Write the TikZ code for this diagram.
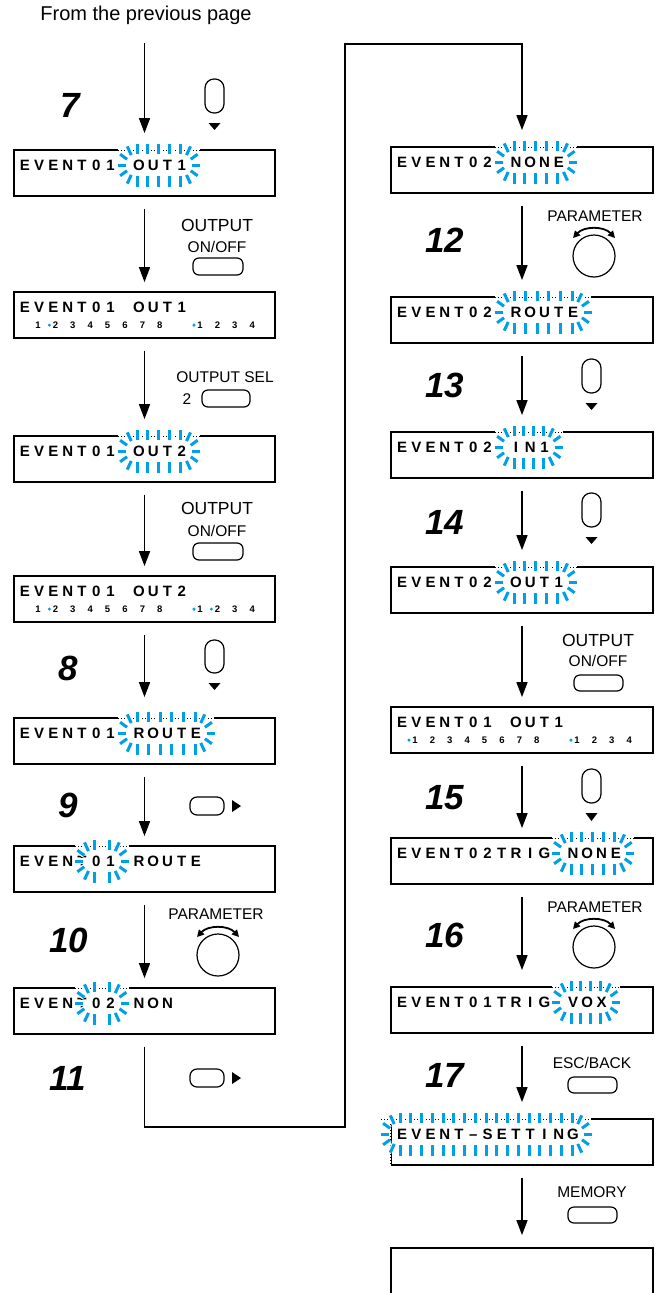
\documentclass[tikz,border=0pt]{standalone}
\usepackage{fontspec}
\setmainfont{Liberation Sans}
\usetikzlibrary{arrows.meta}
\definecolor{blinkblue}{RGB}{0,160,230}
\tikzset{
  lcdbox/.style={draw, line width=1.8pt, minimum height=46pt, inner sep=0pt},
  lbox/.style={lcdbox, minimum width=261pt},
  rbox/.style={lcdbox, minimum width=262pt},
  lcdch/.style={anchor=base, inner sep=0pt, font=\fontsize{15}{15}\selectfont\bfseries},
  nums/.style={anchor=base, inner sep=0pt, font=\fontsize{9.5}{9.5}\selectfont\bfseries},
  arr/.style={line width=1.6pt, -{Triangle[length=15pt,width=11pt]}, shorten <=12pt, shorten >=9pt},
  arrb/.style={arr, shorten >=16pt},
  ray/.style={draw=blinkblue, line width=3pt, preaction={draw=white, line width=5.5pt}},
  dotborder/.style={draw=black, line width=1pt, dash pattern=on 1pt off 2pt},
  stepnum/.style={inner sep=0pt, font=\fontsize{35}{35}\selectfont\bfseries\itshape, text height=25pt, text depth=0pt},
  lbl/.style={inner sep=0pt, font=\fontsize{15.5}{15.5}\selectfont, text height=11pt, text depth=0pt},
  biglbl/.style={inner sep=0pt, font=\fontsize{17.5}{17.5}\selectfont, text height=12.5pt, text depth=0pt},
  btn/.style={draw, line width=1.2pt, rounded corners=6pt},
  vbtn/.style={draw, line width=1.2pt, rounded corners=9pt},
  knob/.style={draw, line width=1.2pt, circle, minimum size=42pt, inner sep=0pt},
  knobarr/.style={line width=1.8pt, {Triangle[length=7pt,width=7pt]}-{Triangle[length=7pt,width=7pt]}},
}
% LCD characters on a fixed pitch
\newcommand\lcdrow[4]{%
  \foreach \lch [count=\ci from 0] in {#4} {
    \node[lcdch] (#1c\ci) at ({#2+\ci*14.25},{#3+20.5}) {\lch};
  }%
}
% small channel numbers
\newcommand\numrow[3]{%
  \foreach \dg in {1,...,8} {\node[nums] (#1a\dg) at ({#2+24+(\dg-1)*17.4},{#3+36.5}) {\dg};}
  \foreach \dg in {1,...,4} {\node[nums] (#1b\dg) at ({#2+186+(\dg-1)*17.4},{#3+36.5}) {\dg};}
}
\newcommand\ndot[1]{\fill[blinkblue] ([xshift=-6pt,yshift=3.4pt]#1.base) circle (1.7pt);}
% blinking rays: x0, first cell, last cell, box top
\newcommand\blink[4]{%
  \pgfmathsetmacro\bxl{#1+#2*14.25-2}
  \pgfmathsetmacro\bxr{#1+#3*14.25-1}
  \pgfmathsetmacro\bcy{#4+15}
  \fill[white] ({\bxl-19},{#4-1.6}) rectangle ({\bxr+19},{#4+1.6});
  \draw[dotborder] ({\bxl-19},#4) -- ({\bxr+19},#4);
  \pgfmathtruncatemacro\bn{max(1,round((\bxr-\bxl)/11))}
  \pgfmathsetmacro\bs{(\bxr-\bxl)/\bn}
  \foreach \k in {0,...,\bn} {
    \draw[ray] ({\bxl+\k*\bs},{\bcy-11.5}) -- ({\bxl+\k*\bs},{\bcy-21.5});
    \draw[ray] ({\bxl+\k*\bs},{\bcy+11}) -- ({\bxl+\k*\bs},{\bcy+21.5});
  }
  \foreach \ang in {-60,-30,0,30,60} {
    \draw[ray] ({\bxr+11.5*cos(\ang)},{\bcy-11.5*sin(\ang)}) -- ({\bxr+19.5*cos(\ang)},{\bcy-21.5*sin(\ang)});
    \draw[ray] ({\bxl-11.5*cos(\ang)},{\bcy-11.5*sin(\ang)}) -- ({\bxl-19.5*cos(\ang)},{\bcy-21.5*sin(\ang)});
  }
}
\newcommand\knobarrow[1]{\draw[knobarr] ([xshift=-21pt,yshift=18pt]#1.center) .. controls ([xshift=-10pt,yshift=30pt]#1.center) and ([xshift=10pt,yshift=30pt]#1.center) .. ([xshift=21pt,yshift=18pt]#1.center);}
\newcommand\downtri[3]{\fill ({#1-6},#2) -- ({#1+6},#2) -- (#1,#3) -- cycle;}
\newcommand\righttri[3]{\fill (#1,{#3-6}) -- (#1,{#3+6}) -- (#2,#3) -- cycle;}

\begin{document}
\begin{tikzpicture}[x=1pt,y=-1pt]
\useasboundingbox (0,0) rectangle (660,1293);
\clip (0,0) rectangle (660,1293);

\node[lbl, font=\fontsize{20}{20}\selectfont, text height=14.3pt] (prev) at (146,13) {From the previous page};

% ---------------- left column ----------------
\node[lbox] (L1) at (144.5,173) {};
\lcdrow{L1}{25}{150}{E,V,E,N,T,0,1,,O,U,T,1}
\blink{25}{8}{11}{150}

\node[lbox] (L2) at (144.5,315) {};
\lcdrow{L2}{25}{292}{E,V,E,N,T,0,1,,O,U,T,1}
\numrow{L2}{14}{292}
\ndot{L2a2}\ndot{L2b1}

\node[lbox] (L3) at (144.5,459) {};
\lcdrow{L3}{25}{436}{E,V,E,N,T,0,1,,O,U,T,2}
\blink{25}{8}{11}{436}

\node[lbox] (L4) at (144.5,599) {};
\lcdrow{L4}{25}{576}{E,V,E,N,T,0,1,,O,U,T,2}
\numrow{L4}{14}{576}
\ndot{L4a2}\ndot{L4b1}\ndot{L4b2}

\node[lbox] (L5) at (144.5,741) {};
\lcdrow{L5}{25}{718}{E,V,E,N,T,0,1,,R,O,U,T,E}
\blink{25}{8}{12}{718}

\node[lbox] (L6) at (144.5,869) {};
\lcdrow{L6}{25}{846}{E,V,E,N,T,0,1,,R,O,U,T,E}
\blink{25}{5}{6}{846}

\node[lbox] (L7) at (144.5,1011) {};
\lcdrow{L7}{25}{988}{E,V,E,N,T,0,2,,N,O,N}
\blink{25}{5}{6}{988}

% ---------------- right column ----------------
\node[rbox] (R1) at (522,170) {};
\lcdrow{R1}{402}{147}{E,V,E,N,T,0,2,,N,O,N,E}
\blink{402}{8}{11}{147}

\node[rbox] (R2) at (522,320) {};
\lcdrow{R2}{402}{297}{E,V,E,N,T,0,2,,R,O,U,T,E}
\blink{402}{8}{12}{297}

\node[rbox] (R3) at (522,455) {};
\lcdrow{R3}{402}{432}{E,V,E,N,T,0,2,,I,N,1}
\blink{402}{8}{10}{432}

\node[rbox] (R4) at (522,590) {};
\lcdrow{R4}{402}{567}{E,V,E,N,T,0,2,,O,U,T,1}
\blink{402}{8}{11}{567}

\node[rbox] (R5) at (522,730) {};
\lcdrow{R5}{402}{707}{E,V,E,N,T,0,1,,O,U,T,1}
\numrow{R5}{391}{707}
\ndot{R5a1}\ndot{R5b1}

\node[rbox] (R6) at (522,861) {};
\lcdrow{R6}{402}{838}{E,V,E,N,T,0,2,T,R,I,G,,N,O,N,E}
\blink{402}{12}{15}{838}

\node[rbox] (R7) at (522,1010) {};
\lcdrow{R7}{402}{987}{E,V,E,N,T,0,1,T,R,I,G,,V,O,X}
\blink{402}{12}{14}{987}

\node[rbox] (R8) at (522,1142) {};
\lcdrow{R8}{402}{1119}{E,V,E,N,T,–,S,E,T,T,I,N,G}
\draw[white, line width=2.6pt] (R8.north west) -- (R8.south west);
\draw[dotborder] (R8.north west) -- (R8.south west);
\blink{402}{0}{12}{1119}

\node[rbox, minimum height=80pt] (R9) at (522,1288) {};

% ---------------- connectors ----------------
\draw[arr, shorten <=23pt, shorten >=16pt] (prev.south -| L1.north) -- (L1);
\draw[arr] (L1) -- (L2);
\draw[arrb] (L2) -- (L3);
\draw[arr] (L3) -- (L4);
\draw[arrb, shorten >=20pt] (L4) -- (L5);
\draw[arr] (L5) -- (L6);
\draw[arr] (L6) -- (L7);
\coordinate (p1) at (144.5,1127);
\coordinate (p2) at (345,1127);
\coordinate (p3) at (345,44);
\coordinate (p4) at (522,44);
\draw[arrb] (L7) -- (p1) -- (p2) -- (p3) -- (p4) -- (R1);
\draw[arrb] (R1) -- (R2);
\draw[arrb] (R2) -- (R3);
\draw[arrb] (R3) -- (R4);
\draw[arr] (R4) -- (R5);
\draw[arr] (R5) -- (R6);
\draw[arrb] (R6) -- (R7);
\draw[arrb] (R7) -- (R8);
\draw[arr, shorten >=12pt] (R8) -- (R9);

% ---------------- left step annotations ----------------
\node[stepnum] (s7) at (70,105) {7};
\draw[vbtn] (205,79) rectangle (224,113);
\downtri{214.5}{123}{130}

\node[biglbl] (out1) at (217,225) {OUTPUT};
\node[lbl] (onoff1) at (217,247) {ON/OFF};
\draw[btn] (193,258) rectangle (243,275);

\node[lbl] (osel) at (225,377) {OUTPUT SEL};
\node[lbl] (osel2) at (187,399) {2};
\draw[btn] (202,390) rectangle (250,407);

\node[biglbl] (out2) at (217,508) {OUTPUT};
\node[lbl] (onoff2) at (217,531) {ON/OFF};
\draw[btn] (193,543) rectangle (243,560);

\node[stepnum] (s8) at (68,668) {8};
\draw[vbtn] (205,640) rectangle (224,673);
\downtri{214.5}{683}{690}

\node[stepnum] (s9) at (68,805) {9};
\draw[btn, rounded corners=7pt] (190,797) rectangle (224,815);
\righttri{232}{241}{806}

\node[stepnum] (s10) at (69,940) {10};
\node[lbl] (par1) at (216,914) {PARAMETER};
\node[knob] (K1) at (218,955) {};
\knobarrow{K1}

\node[stepnum] (s11) at (68,1078) {11};
\draw[btn, rounded corners=7pt] (190,1069) rectangle (224,1087);
\righttri{232}{241}{1078}

% ---------------- right step annotations ----------------
\node[stepnum] (s12) at (445,240) {12};
\node[lbl] (par2) at (595,216) {PARAMETER};
\node[knob] (K2) at (594,256) {};
\knobarrow{K2}

\node[stepnum] (s13) at (445,385) {13};
\draw[vbtn] (582,359) rectangle (601,393);
\downtri{591.5}{403}{410}

\node[stepnum] (s14) at (445,522) {14};
\draw[vbtn] (582,493) rectangle (601,527);
\downtri{591.5}{537}{544}

\node[biglbl] (out3) at (598,640) {OUTPUT};
\node[lbl] (onoff3) at (598,661) {ON/OFF};
\draw[btn] (574,675) rectangle (623,691);

\node[stepnum] (s15) at (445,797) {15};
\draw[vbtn] (582,769) rectangle (601,803);
\downtri{591.5}{813}{821}

\node[stepnum] (s16) at (445,935) {16};
\node[lbl] (par3) at (595,907) {PARAMETER};
\node[knob] (K3) at (594,947) {};
\knobarrow{K3}

\node[stepnum] (s17) at (445,1075) {17};
\node[lbl] (esc) at (592,1063) {ESC/BACK};
\draw[btn] (568,1077) rectangle (617,1093);

\node[lbl] (mem) at (592,1192) {MEMORY};
\draw[btn] (568,1207) rectangle (617,1223);
\end{tikzpicture}
\end{document}
